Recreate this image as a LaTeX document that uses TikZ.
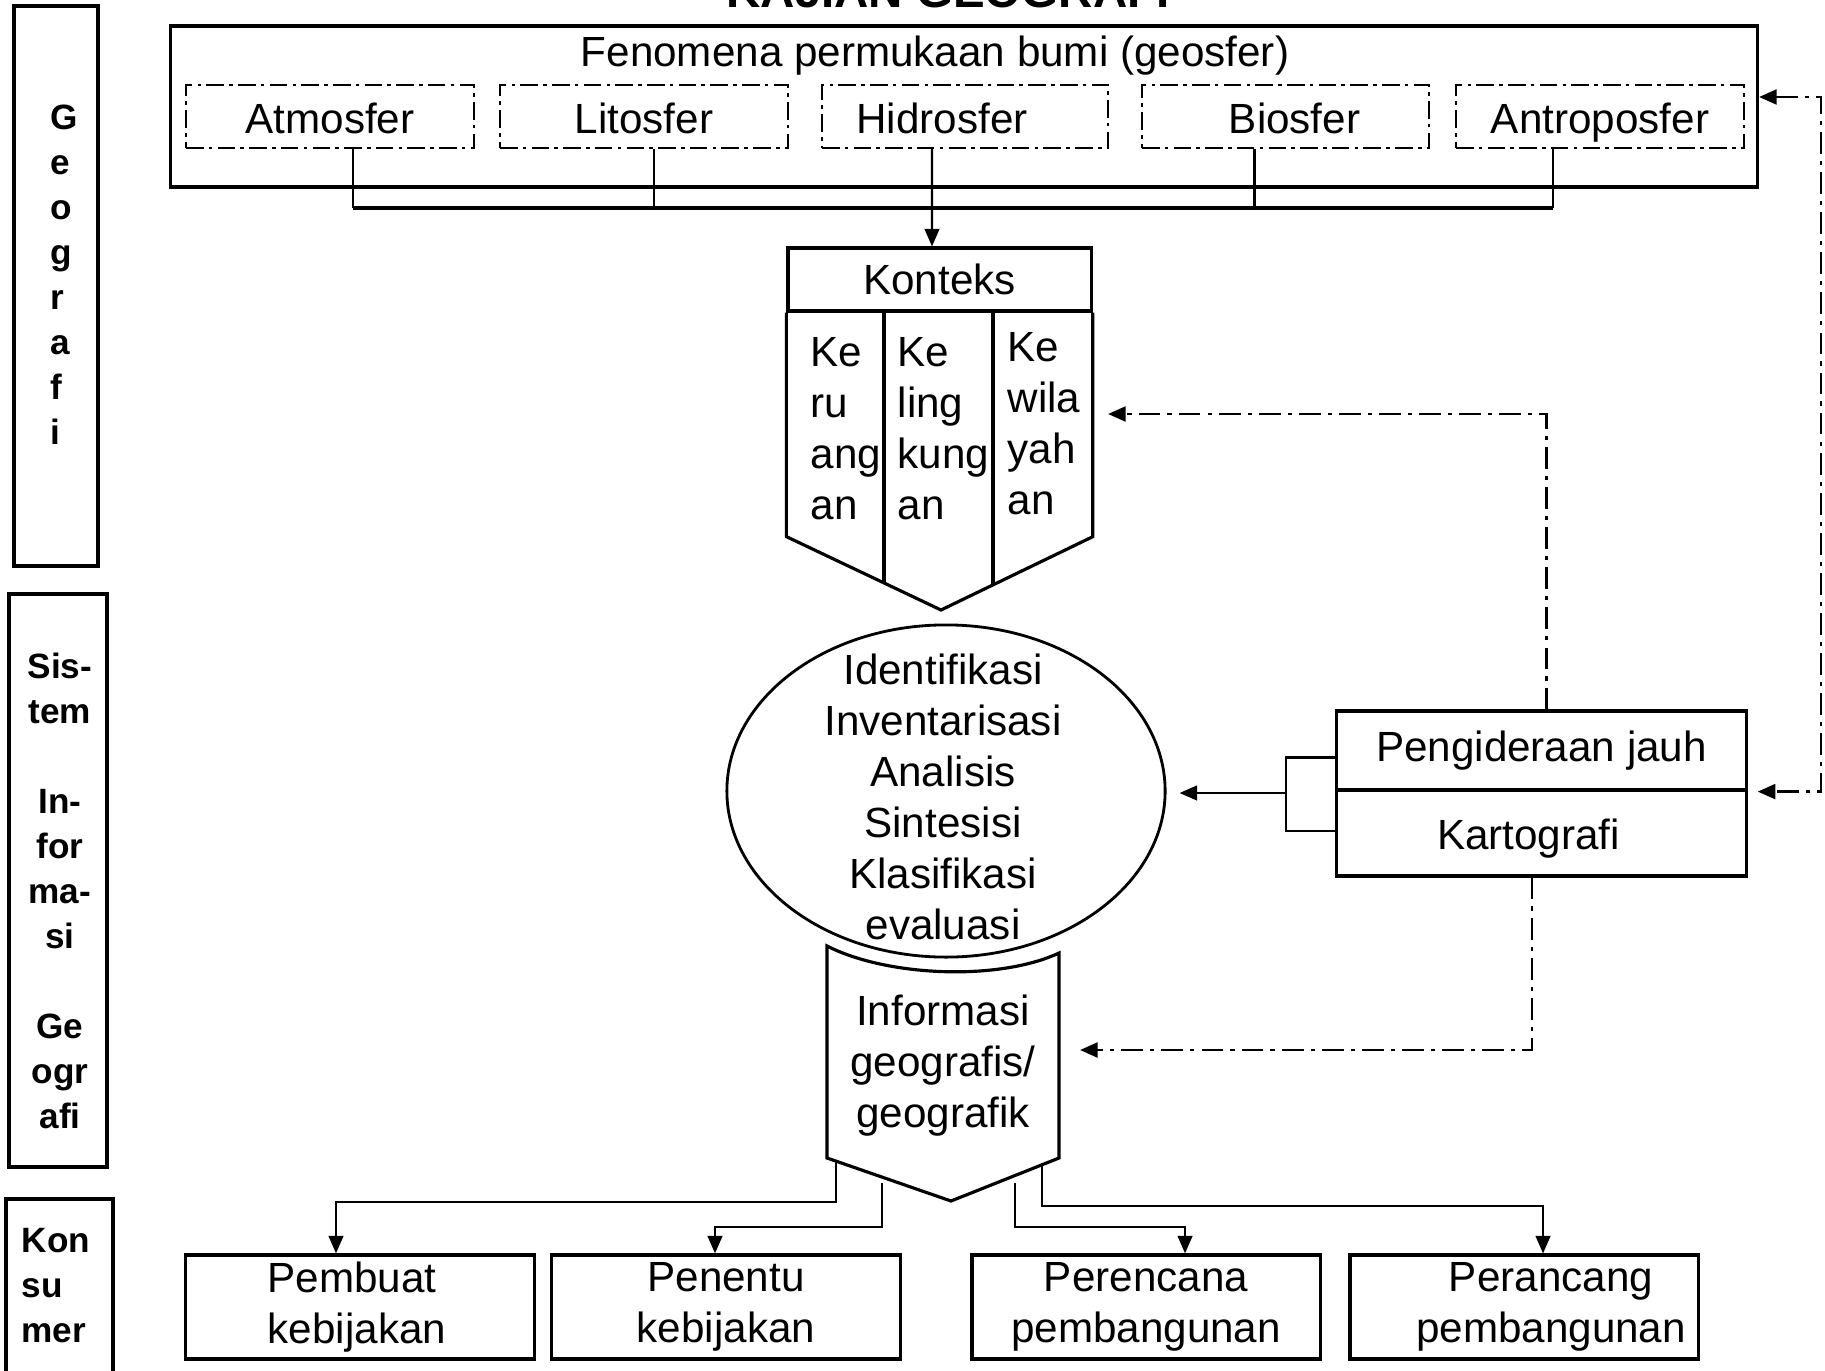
\documentclass[tikz,border=0pt]{standalone}
\usepackage{fontspec}
\setmainfont{Liberation Sans}
\usetikzlibrary{shapes.geometric,arrows.meta}

\newcommand{\teks}{\fontsize{12}{14.5}\selectfont}
\newcommand{\sisi}{\fontsize{10}{12.8}\selectfont\bfseries}

\tikzset{
  kotak/.style={draw,line width=0.9pt,inner sep=0pt,align=center,font=\teks},
  putus/.style={draw,line width=0.6pt,dash pattern=on 5pt off 1.5pt on 1pt off 1.5pt,inner sep=0pt,font=\teks,text height=9.6pt,text depth=0pt},
  garis/.style={line width=0.6pt},
  titiktitik/.style={line width=0.8pt,dash pattern=on 6.2pt off 2pt on 1.2pt off 2pt},
  samping/.style={inner sep=0pt,align=center,font=\sisi},
  kolom/.style={inner sep=0pt,align=left,anchor=north west,font=\teks},
}

\begin{document}
\begin{tikzpicture}[x=0.01cm,y=-0.01cm,>={Triangle[length=5pt,width=4.2pt]}]
\useasboundingbox (0,0) rectangle (1825,1370);
\clip (0,0) rectangle (1825,1370);
\node[anchor=base,font=\fontsize{13.5}{16}\selectfont\bfseries] (judul) at (948,8) {KAJIAN GEOGRAFI};
% kolom kiri
\draw [line width=0.9pt] (14,6) rectangle (98,566);
\node[samping,align=left,anchor=west] (geografi) at (50,274.5) {G\\e\\o\\g\\r\\a\\f\\i};
\draw [line width=0.9pt] (9,594) rectangle (107,1167);
\node[samping] (sig) at (60,890.5) {Sis-\\tem\\[12.8pt]In-\\for\\ma-\\si\\[12.8pt]Ge\\ogr\\afi};
\draw [line width=0.9pt] (6,1199) rectangle (113,1400);
\node[samping,align=left,anchor=west] (konsumer) at (21,1286) {Kon\\su\\mer};
% geosfer
\node[kotak,minimum width=15.86cm,minimum height=1.61cm] (geosfer) at (964,106.5) {};
\node[font=\teks] (fenomena) at (935,55.5) {Fenomena permukaan bumi (geosfer)};
\node[putus,minimum width=2.88cm,minimum height=0.63cm] (atmosfer) at (330,116.5) {Atmosfer};
\node[putus,minimum width=2.88cm,minimum height=0.63cm] (litosfer) at (644,116.5) {Litosfer};
\node[putus,minimum width=2.86cm,minimum height=0.63cm] (hidrosfer) at (965,116.5) {Hidrosfer\hspace*{4.6mm}};
\node[putus,minimum width=2.87cm,minimum height=0.63cm] (biosfer) at (1285.5,116.5) {\hspace*{1.8mm}Biosfer};
\node[putus,minimum width=2.88cm,minimum height=0.63cm] (antroposfer) at (1600,116.5) {Antroposfer};
\coordinate (gabung) at (940,208);
\foreach \n/\dx in {atmosfer/2.3,litosfer/1,biosfer/-3.1,antroposfer/-4.7}
  \draw [garis] ([xshift=\dx mm]\n.south) -- ([xshift=\dx mm]\n.south |- gabung);
\draw [line width=1.2pt] ([xshift=2.3mm]atmosfer.south |- gabung) -- ([xshift=-4.7mm]antroposfer.south |- gabung);
% konteks
\node[kotak,minimum width=3.03cm,minimum height=0.63cm] (konteks) at (939.5,279.5) {Konteks};
\draw [->,garis] ([xshift=-3.3mm]hidrosfer.south) -- ([xshift=-0.75mm]konteks.north);
\coordinate (ujungKonteks) at (941,610);
\draw [line width=0.9pt] (konteks.south west) -- ++(0,224) -- (ujungKonteks) -- ([yshift=-2.24cm]konteks.south east) -- (konteks.south east);
\draw [line width=0.9pt] (884,311) -- (884,582);
\draw [line width=0.9pt] (993,311) -- (993,584);
\node[kolom] (keruangan) at (810,337) {Ke\\ru\\ang\\an};
\node[kolom] (kelingkungan) at (897,337) {Ke\\ling\\kung\\an};
\node[kolom] (kewilayahan) at (1007,332) {Ke\\wila\\yah\\an};
% proses
\node[draw,ellipse,line width=0.8pt,minimum width=4.38cm,minimum height=3.32cm,inner sep=0pt] (proses) at (946,791) {};
\node[font=\teks,align=center] (langkah) at (943,797) {Identifikasi\\Inventarisasi\\Analisis\\Sintesisi\\Klasifikasi\\evaluasi};
% informasi
\draw [line width=0.9pt] (951,1201) -- (827,1158) -- (827,946) .. controls (888,977) and (999,981) .. (1059,953) -- (1059,1158) -- cycle;
\node[font=\teks,align=center] (informasi) at (943,1066) {Informasi\\geografis/\\geografik};
% konsumen
\node[kotak,minimum width=3.48cm,minimum height=1.04cm] (pembuat) at (360,1307) {Pembuat\hspace*{1.6mm}\\kebijakan\hspace*{0.6mm}};
\node[kotak,minimum width=3.48cm,minimum height=1.04cm] (penentu) at (726,1307) {Penentu\\kebijakan};
\node[kotak,minimum width=3.48cm,minimum height=1.04cm] (perencana) at (1146,1307) {Perencana\\pembangunan};
\node[kotak,minimum width=3.48cm,minimum height=1.04cm] (perancang) at (1524,1307) {\hspace*{5.4mm}Perancang\\\hspace*{5.4mm}pembangunan};
\coordinate (cabangA) at (836,1160);
\coordinate (cabangB) at (882,1183);
\coordinate (cabangC) at (1015,1183);
\coordinate (cabangD) at (1042,1163);
\draw [->,garis] (cabangA) -- ++(0,42) -| ([xshift=-2.4mm]pembuat.north);
\draw [->,garis] (cabangB) -- ++(0,44) -| ([xshift=-1.1mm]penentu.north);
\draw [->,garis] (cabangC) -- ++(0,44) -| ([xshift=3.9mm]perencana.north);
\draw [->,garis] (cabangD) -- ++(0,43) -| ([xshift=1.9mm]perancang.north);
% penginderaan jauh
\node[kotak,minimum width=4.09cm,minimum height=0.79cm] (inderaja) at (1541.5,750.5) {Pengideraan jauh};
\node[kotak,minimum width=4.09cm,minimum height=0.86cm] (kartografi) at (1541.5,833) {\raisebox{-1.7pt}[\height][\depth]{Kartografi}\hspace*{2.6mm}};
\coordinate (kurung) at (1286,793);
\draw [garis] ([yshift=-0.7mm]inderaja.west) -| (kurung) |- ([yshift=0.2mm]kartografi.west);
\draw [->,garis,shorten >=1.3mm] (kurung) -- (proses.east |- kurung);
\coordinate (masukKonteks) at (1108,414);
\coordinate (masukInfo) at (1080,1050);
\draw [titiktitik,->] ([xshift=0.5mm]inderaja.north) |- (masukKonteks);
\draw [titiktitik,->] ([xshift=-0.95mm]kartografi.south) |- (masukInfo);
\draw [titiktitik,<->,shorten >=1mm] ([yshift=0.95mm]geosfer.east) -- ++(62,0) |- (inderaja.south east);
\end{tikzpicture}
\end{document}
